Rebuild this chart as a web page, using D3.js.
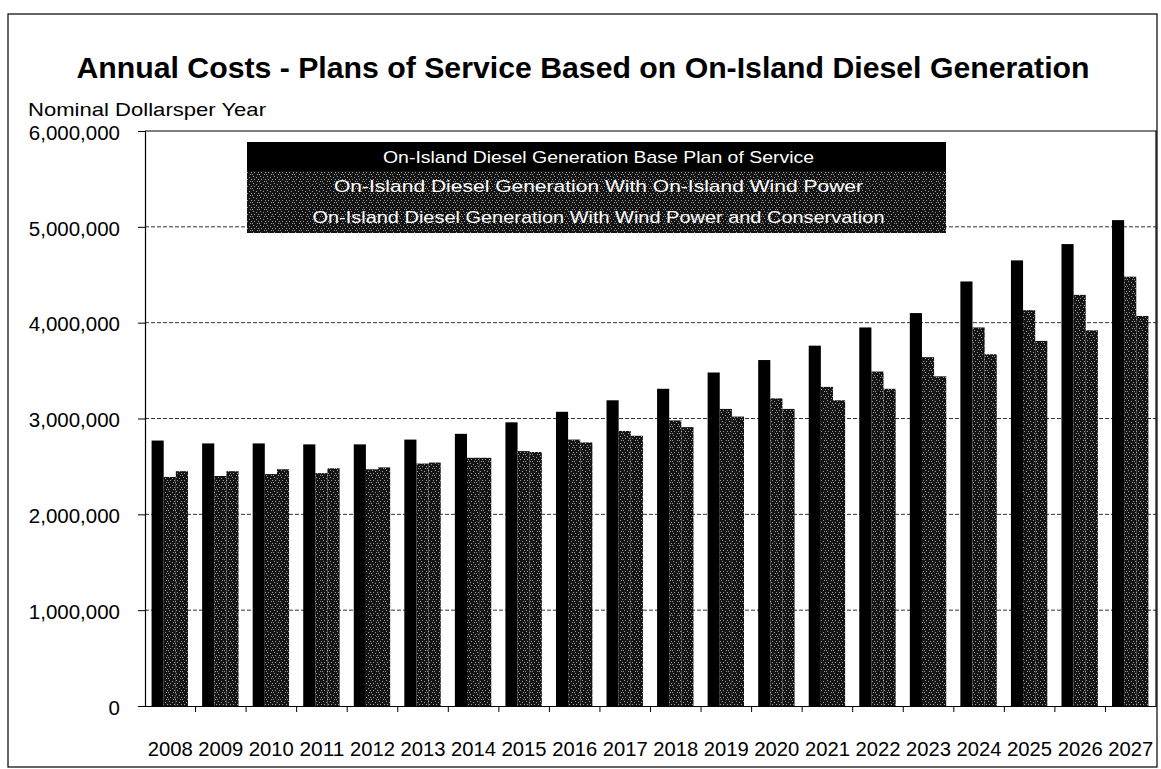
<!DOCTYPE html>
<html lang="en">
<head>
<meta charset="UTF-8">
<title>Annual Costs - Plans of Service</title>
<script src="https://d3js.org/d3.v7.min.js"></script>
<style>
  body { margin: 0; background: #fff; }
  text { font-family: "Liberation Sans", Arial, sans-serif; fill: #000; }
</style>
</head>
<body>
<div id="chart"></div>
<script>
// annual cost per plan, nominal dollars
const years = ["2008", "2009", "2010", "2011", "2012", "2013", "2014", "2015", "2016", "2017",
               "2018", "2019", "2020", "2021", "2022", "2023", "2024", "2025", "2026", "2027"];
const basePlan = [2770000, 2740000, 2740000, 2730000, 2730000, 2780000, 2840000, 2960000, 3070000, 3190000,
                  3310000, 3480000, 3610000, 3760000, 3950000, 4100000, 4430000, 4650000, 4820000, 5070000];
const windPower = [2390000, 2400000, 2420000, 2430000, 2470000, 2530000, 2590000, 2660000, 2780000, 2870000,
                   2980000, 3100000, 3210000, 3330000, 3490000, 3640000, 3950000, 4130000, 4290000, 4480000];
const windConservation = [2450000, 2450000, 2470000, 2480000, 2490000, 2540000, 2590000, 2650000, 2750000, 2820000,
                          2910000, 3020000, 3100000, 3190000, 3310000, 3440000, 3670000, 3810000, 3920000, 4070000];
const seriesNames = [
  "On-Island Diesel Generation  Base Plan of Service",
  "On-Island Diesel Generation With On-Island Wind Power",
  "On-Island Diesel Generation With Wind Power and Conservation"
];
const yTicks = [0, 1000000, 2000000, 3000000, 4000000, 5000000, 6000000];

const width = 1161, height = 769;
const plot = { left: 145, right: 1156, top: 131, bottom: 706 };

const svg = d3.select("#chart").append("svg")
  .attr("width", width)
  .attr("height", height);

// speckled dark fill used by the two wind series
const defs = svg.append("defs");
const pat = defs.append("pattern")
  .attr("id", "stipple")
  .attr("patternUnits", "userSpaceOnUse")
  .attr("width", 7).attr("height", 7);
pat.append("rect").attr("width", 7).attr("height", 7).attr("fill", "#141414");
[[1, 1], [4, 2], [2, 4], [6, 4], [5, 6], [0, 6]].forEach(([px, py]) => {
  pat.append("rect").attr("x", px).attr("y", py).attr("width", 1).attr("height", 1).attr("fill", "#9a9a9a");
});
const fills = ["#000", "url(#stipple)", "url(#stipple)"];

// outer frame
svg.append("rect")
  .attr("x", 8).attr("y", 14)
  .attr("width", 1149).attr("height", 753)
  .attr("fill", "none").attr("stroke", "#000").attr("stroke-width", 1.2);

// title and axis title
svg.append("text")
  .attr("x", 583).attr("y", 78)
  .attr("text-anchor", "middle")
  .attr("font-size", 30).attr("font-weight", "bold")
  .attr("textLength", 1013).attr("lengthAdjust", "spacingAndGlyphs")
  .text("Annual Costs - Plans of Service Based on On-Island Diesel Generation");

svg.append("text")
  .attr("x", 28).attr("y", 116)
  .attr("font-size", 19)
  .attr("textLength", 238).attr("lengthAdjust", "spacingAndGlyphs")
  .text("Nominal Dollarsper Year");

const x = d3.scaleBand().domain(years).range([plot.left, plot.right]).padding(0);
const sub = d3.scaleBand().domain([0, 1, 2])
  .range([x.bandwidth() * 0.13, x.bandwidth() * 0.85]).padding(0);
const y = d3.scaleLinear().domain([0, 6000000]).range([plot.bottom, plot.top]);

// gridlines
svg.append("g")
  .selectAll("line")
  .data(yTicks.filter(d => d > 0 && d < 6000000))
  .join("line")
  .attr("x1", plot.left).attr("x2", plot.right)
  .attr("y1", d => y(d)).attr("y2", d => y(d))
  .attr("stroke", "#333").attr("stroke-width", 1)
  .attr("stroke-dasharray", "4,2");

// plot border: top and right
svg.append("path")
  .attr("d", `M${plot.left},${y(6000000)}H${plot.right}V${plot.bottom}`)
  .attr("fill", "none").attr("stroke", "#000").attr("stroke-width", 1.2);

// bars
const series = [basePlan, windPower, windConservation];
series.forEach((vals, si) => {
  svg.append("g")
    .selectAll("rect")
    .data(vals)
    .join("rect")
    .attr("x", (d, i) => x(years[i]) + sub(si))
    .attr("y", d => y(d))
    .attr("width", sub.bandwidth())
    .attr("height", d => y(0) - y(d))
    .attr("fill", fills[si]);
});

// y axis
const yAxis = svg.append("g")
  .attr("transform", `translate(${plot.left},0)`)
  .call(d3.axisLeft(y).tickValues(yTicks).tickFormat(d3.format(",")).tickSize(7).tickPadding(18));
yAxis.select(".domain").attr("stroke-width", 1.2);
yAxis.selectAll("text").attr("font-size", 20.5).attr("fill", "#000").attr("dy", "0.4em");

// x axis
const xAxis = svg.append("g")
  .attr("transform", `translate(0,${plot.bottom})`)
  .call(d3.axisBottom(x).tickSize(0).tickPadding(35));
xAxis.select(".domain").attr("stroke-width", 1.2);
xAxis.selectAll("text").attr("font-size", 20.5).attr("fill", "#000")
  .attr("textLength", 45).attr("lengthAdjust", "spacingAndGlyphs");

// small ticks between the year groups
svg.append("g")
  .selectAll("line")
  .data(years.slice(1))
  .join("line")
  .attr("x1", d => x(d)).attr("x2", d => x(d))
  .attr("y1", plot.bottom).attr("y2", plot.bottom + 6)
  .attr("stroke", "#000");

// legend
const legend = { x: 247, y: 142, w: 699, rowH: [29, 30, 32] };
const legendWidths = [431, 529, 572];
let ly = legend.y;
const rows = svg.append("g");
seriesNames.forEach((name, i) => {
  rows.append("rect")
    .attr("x", legend.x).attr("y", ly)
    .attr("width", legend.w).attr("height", legend.rowH[i])
    .attr("fill", fills[i]);
  rows.append("text")
    .attr("x", legend.x + legend.w / 2 + 2).attr("y", ly + legend.rowH[i] / 2 + 6)
    .attr("text-anchor", "middle")
    .attr("font-size", 17)
    .attr("textLength", legendWidths[i]).attr("lengthAdjust", "spacingAndGlyphs")
    .style("fill", "#fff")
    .text(name);
  ly += legend.rowH[i];
});
</script>
</body>
</html>
